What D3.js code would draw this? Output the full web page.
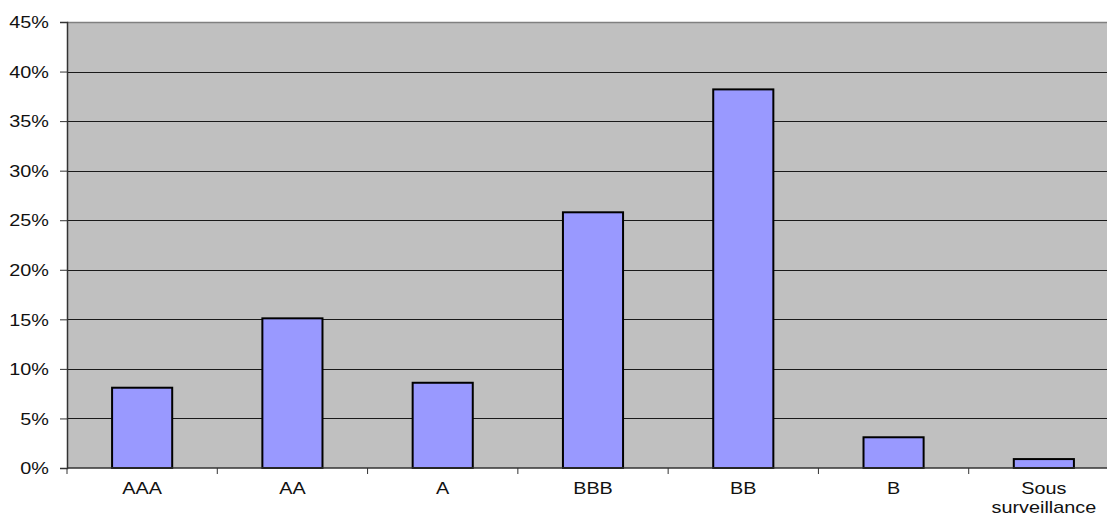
<!DOCTYPE html>
<html>
<head>
<meta charset="utf-8">
<script src="https://cdn.jsdelivr.net/npm/d3@7/dist/d3.min.js"></script>
<style>
  body { margin: 0; background: #fff; }
  svg { display: block; font-family: "Liberation Sans", Arial, sans-serif; }
</style>
</head>
<body>
<svg width="1107" height="516"></svg>
<script>
// chart data
var categories = ["AAA", "AA", "A", "BBB", "BB", "B", "Sous surveillance"];
var values = [8.1, 15.1, 8.6, 25.8, 38.2, 3.1, 0.9];
var yTicks = [0, 5, 10, 15, 20, 25, 30, 35, 40, 45];

var svg = d3.select("svg"),
    width = +svg.attr("width"),
    height = +svg.attr("height");

// plot area runs off the right edge like the original
var plotLeft = 67, plotTop = 22, plotBottom = 468, plotRight = 1119;
var stretch = 1.24; // the original text is drawn a bit wide

var x = d3.scaleBand()
  .domain(categories)
  .range([plotLeft, plotRight])
  .paddingInner(0.6)
  .paddingOuter(0.3);

var y = d3.scaleLinear()
  .domain([0, 45])
  .range([plotBottom, plotTop]);

// grey background
svg.append("rect")
  .attr("x", plotLeft).attr("y", plotTop)
  .attr("width", plotRight - plotLeft).attr("height", plotBottom - plotTop)
  .attr("fill", "#c0c0c0");

// top border
svg.append("line")
  .attr("x1", plotLeft).attr("x2", plotRight)
  .attr("y1", plotTop + 0.5).attr("y2", plotTop + 0.5)
  .attr("stroke", "#808080").attr("stroke-width", 1.5);

// gridlines
svg.append("g").selectAll("line")
  .data(yTicks.filter(function(d){ return d > 0 && d < 45 }))
  .enter().append("line")
  .attr("x1", plotLeft).attr("x2", plotRight)
  .attr("y1", function(d){ return Math.round(y(d)) + 0.5 })
  .attr("y2", function(d){ return Math.round(y(d)) + 0.5 })
  .attr("stroke", "#1a1a1a").attr("stroke-width", 1.2);

// bars
svg.append("g").selectAll("rect")
  .data(values)
  .enter().append("rect")
  .attr("x", function(d, i){ return x(categories[i]) })
  .attr("y", function(d){ return y(d) })
  .attr("width", x.bandwidth())
  .attr("height", function(d){ return plotBottom - y(d) })
  .attr("fill", "#9999ff")
  .attr("stroke", "#000")
  .attr("stroke-width", 2);

// y axis
var yAxis = d3.axisLeft(y)
  .tickValues(yTicks)
  .tickFormat(function(d){ return d + "%" })
  .tickSize(7)
  .tickPadding(11);

var gY = svg.append("g")
  .attr("transform", "translate(" + plotLeft + ",0)")
  .call(yAxis);
gY.select(".domain").attr("stroke", "#333").attr("stroke-width", 1.5);
gY.selectAll(".tick line").attr("stroke", "#333");
gY.selectAll("text")
  .attr("font-size", 16).attr("fill", "#111")
  .attr("font-family", "Liberation Sans, Arial, sans-serif")
  .attr("x", -18 / stretch)
  .attr("dy", "0.36em")
  .attr("transform", "scale(" + stretch + ",1)");

// x axis baseline and ticks at category boundaries
var step = x.step();
var bounds = d3.range(categories.length + 1).map(function(i){ return plotLeft + i * step });

svg.append("line")
  .attr("x1", plotLeft).attr("x2", plotRight)
  .attr("y1", plotBottom).attr("y2", plotBottom)
  .attr("stroke", "#333").attr("stroke-width", 1.5);

svg.append("g").selectAll("line")
  .data(bounds)
  .enter().append("line")
  .attr("x1", function(d){ return d }).attr("x2", function(d){ return d })
  .attr("y1", plotBottom).attr("y2", plotBottom + 6)
  .attr("stroke", "#333");

// x labels, wrapping the long one
var labels = svg.append("g").selectAll("text")
  .data(categories)
  .enter().append("text")
  .attr("transform", function(d){
    return "translate(" + (x(d) + x.bandwidth() / 2) + ",494) scale(" + stretch + ",1)";
  })
  .attr("text-anchor", "middle")
  .attr("font-size", 16)
  .attr("fill", "#111");

labels.each(function(d){
  var words = d.split(" ");
  var t = d3.select(this);
  words.forEach(function(w, i){
    t.append("tspan")
      .attr("x", 0)
      .attr("dy", i === 0 ? 0 : 19)
      .text(w);
  });
});
</script>
</body>
</html>
